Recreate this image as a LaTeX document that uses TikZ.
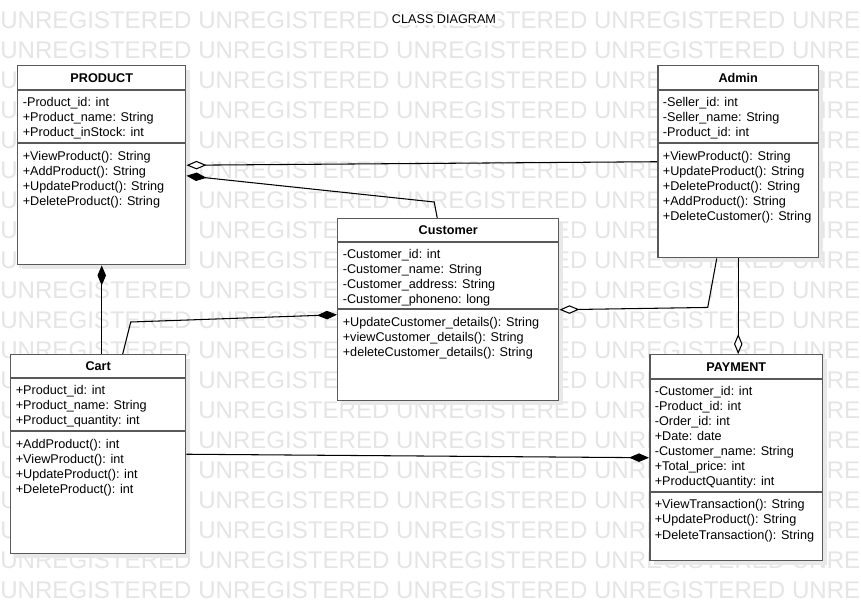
\documentclass[tikz,border=0pt]{standalone}
\usepackage{fontspec}
\setmainfont{Liberation Sans}
\usetikzlibrary{positioning, arrows.meta, shadows}

\begin{document}
\begin{tikzpicture}[
    x=0.02cm, y=-0.02cm,
    font=\fontsize{7.2}{8.54}\selectfont,
    class/.style={rectangle, draw=black!65, line width=0.85pt, fill=white, inner sep=0pt, anchor=north west,
        drop shadow={shadow xshift=0.09cm, shadow yshift=-0.09cm, fill=black!9, opacity=1}},
    head/.style={inner sep=0pt, font=\fontsize{7.2}{8.54}\selectfont\bfseries},
    members/.style={inner sep=0pt, align=left},
    divider/.style={draw=black!65, line width=0.85pt},
    compo/.style={line width=0.6pt, -{Diamond[length=0.4cm, width=0.17cm, fill=black]}},
    aggr/.style={line width=0.6pt, -{Diamond[length=0.4cm, width=0.17cm, fill=white]}},
    wmark/.style={inner sep=0pt, anchor=west, text=black!10, font=\fontsize{13.7}{16}\selectfont}
]
\useasboundingbox (0,0) rectangle (861,601);
\fill[white] (0,0) rectangle (861,601);

% watermark rows
\begin{scope}
\clip (0,0) rectangle (861,601);
\foreach \r in {0,...,19}
    \node[wmark] (wm\r) at (0,20+30*\r) {UNREGISTERED UNREGISTERED UNREGISTERED UNREGISTERED UNREGISTERED};
\end{scope}

\node[fill=white, inner sep=1pt] (title) at (444,19) {CLASS DIAGRAM};

% PRODUCT
\node[class, minimum width=3.36cm, minimum height=3.98cm] (product) at (17,65) {};
\node[head, below=0.16cm of product.north] (productName) {PRODUCT};
\draw[divider] ([yshift=-0.5cm]product.north west) -- ([yshift=-0.5cm]product.north east);
\draw[divider] ([yshift=-1.56cm]product.north west) -- ([yshift=-1.56cm]product.north east);
\node[members, below right=0.64cm and 0.11cm of product.north west] (productAttr) {-Product\_id: int\\+Product\_name: String\\+Product\_inStock: int};
\node[members, below right=1.71cm and 0.11cm of product.north west] (productOps) {+ViewProduct(): String\\+AddProduct(): String\\+UpdateProduct(): String\\+DeleteProduct(): String};

% Admin
\node[class, minimum width=3.22cm, minimum height=3.84cm] (admin) at (657,65) {};
\node[head, below=0.16cm of admin.north] (adminName) {Admin};
\draw[divider] ([yshift=-0.5cm]admin.north west) -- ([yshift=-0.5cm]admin.north east);
\draw[divider] ([yshift=-1.56cm]admin.north west) -- ([yshift=-1.56cm]admin.north east);
\node[members, below right=0.64cm and 0.11cm of admin.north west] (adminAttr) {-Seller\_id: int\\-Seller\_name: String\\-Product\_id: int};
\node[members, below right=1.71cm and 0.11cm of admin.north west] (adminOps) {+ViewProduct(): String\\+UpdateProduct(): String\\+DeleteProduct(): String\\+AddProduct(): String\\+DeleteCustomer(): String};

% Customer
\node[class, minimum width=4.42cm, minimum height=3.64cm] (customer) at (337,218) {};
\node[head, below=0.15cm of customer.north] (customerName) {Customer};
\draw[divider] ([yshift=-0.48cm]customer.north west) -- ([yshift=-0.48cm]customer.north east);
\draw[divider] ([yshift=-1.82cm]customer.north west) -- ([yshift=-1.82cm]customer.north east);
\node[members, below right=0.62cm and 0.11cm of customer.north west] (customerAttr) {-Customer\_id: int\\-Customer\_name: String\\-Customer\_address: String\\-Customer\_phoneno: long};
\node[members, below right=1.97cm and 0.11cm of customer.north west] (customerOps) {+UpdateCustomer\_details(): String\\+viewCustomer\_details(): String\\+deleteCustomer\_details(): String};

% Cart
\node[class, minimum width=3.5cm, minimum height=3.98cm] (cart) at (10,354) {};
\node[head, below=0.15cm of cart.north] (cartName) {Cart};
\draw[divider] ([yshift=-0.48cm]cart.north west) -- ([yshift=-0.48cm]cart.north east);
\draw[divider] ([yshift=-1.54cm]cart.north west) -- ([yshift=-1.54cm]cart.north east);
\node[members, below right=0.62cm and 0.11cm of cart.north west] (cartAttr) {+Product\_id: int\\+Product\_name: String\\+Product\_quantity: int};
\node[members, below right=1.69cm and 0.11cm of cart.north west] (cartOps) {+AddProduct(): int\\+ViewProduct(): int\\+UpdateProduct(): int\\+DeleteProduct(): int};

% PAYMENT
\node[class, minimum width=3.46cm, minimum height=4.12cm] (payment) at (649,354) {};
\node[head, below=0.16cm of payment.north] (paymentName) {PAYMENT};
\draw[divider] ([yshift=-0.5cm]payment.north west) -- ([yshift=-0.5cm]payment.north east);
\draw[divider] ([yshift=-2.76cm]payment.north west) -- ([yshift=-2.76cm]payment.north east);
\node[members, below right=0.64cm and 0.11cm of payment.north west] (paymentAttr) {-Customer\_id: int\\-Product\_id: int\\-Order\_id: int\\+Date: date\\-Customer\_name: String\\+Total\_price: int\\+ProductQuantity: int};
\node[members, below right=2.91cm and 0.11cm of payment.north west] (paymentOps) {+ViewTransaction(): String\\+UpdateProduct(): String\\+DeleteTransaction(): String};

% associations
\draw[aggr] (admin.west) -- (product.east);
\draw[compo] ([xshift=-0.22cm]customer.north) -- ++(-3,-16) -- ([yshift=-0.21cm]product.east);
\draw[compo] (product.south |- cart.north) -- (product.south);
\draw[compo] ([xshift=0.49cm]cart.north) -- ++(8,-32) -- ([yshift=-0.1cm]customer.west);
\draw[aggr] ([xshift=-0.43cm]admin.south) -- ++(-9,49) -- (customer.east);
\draw[aggr] (admin.south) -- (admin.south |- payment.north);
\draw[compo] (cart.east) -- (payment.west);
\end{tikzpicture}
\end{document}
